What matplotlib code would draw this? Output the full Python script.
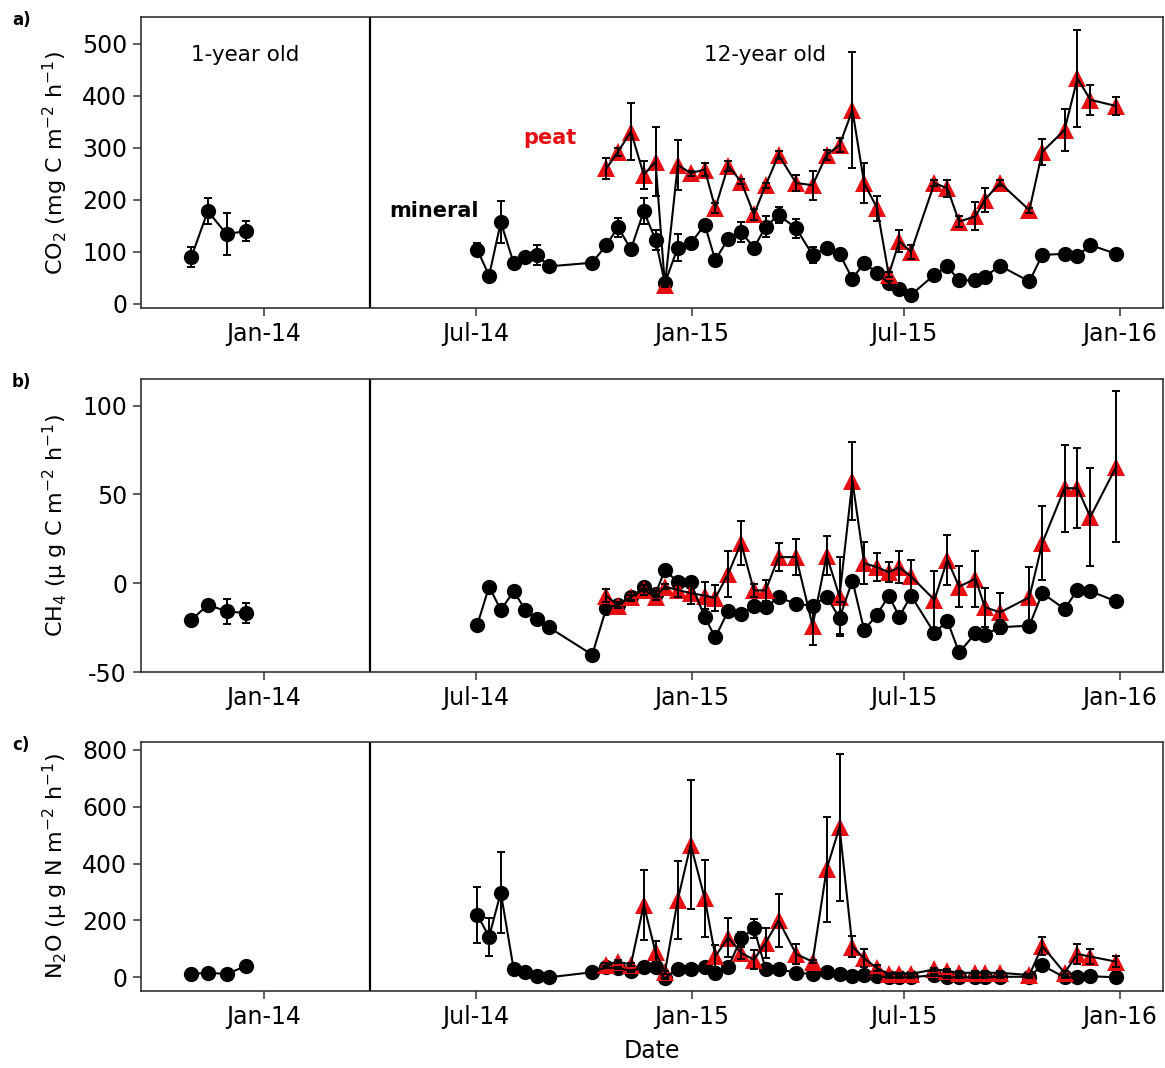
import numpy as np
import pandas as pd
import matplotlib
matplotlib.use('Agg')
import matplotlib.pyplot as plt
import matplotlib.dates as mdates

plt.rcParams['font.family'] = ['DejaVu Sans']
plt.rcParams['mathtext.default'] = 'regular'
plt.rcParams['axes.unicode_minus'] = False

# 1-year old site
dates_1yr = ['2013-10-31', '2013-11-14', '2013-11-30', '2013-12-17']
co2_1yr = [90, 178, 134, 140]
co2_1yr_se = [19, 25, 40, 20]
ch4_1yr = [-20.7, -12.2, -15.8, -16.9]
ch4_1yr_se = [1.5, 3, 7, 5.5]
n2o_1yr = [12, 16, 12, 40]
n2o_1yr_se = [3, 3, 3, 5]

# 12-year old site, mineral plots
dates_12yr = ['2014-07-02', '2014-07-12', '2014-07-22', '2014-08-02', '2014-08-12',
              '2014-08-22', '2014-09-01', '2014-10-08', '2014-10-20', '2014-10-30',
              '2014-11-10', '2014-11-21', '2014-12-01', '2014-12-09', '2014-12-20',
              '2014-12-31', '2015-01-12', '2015-01-21', '2015-02-01', '2015-02-12',
              '2015-02-23', '2015-03-05', '2015-03-16', '2015-03-31', '2015-04-14',
              '2015-04-26', '2015-05-07', '2015-05-18', '2015-05-28', '2015-06-08',
              '2015-06-18', '2015-06-27', '2015-07-07', '2015-07-27', '2015-08-07',
              '2015-08-17', '2015-08-31', '2015-09-08', '2015-09-21', '2015-10-16',
              '2015-10-27', '2015-11-15', '2015-11-26', '2015-12-07', '2015-12-29']
# peat plots measured from 20 Oct 2014 on
dates_peat = dates_12yr[8:]

co2_min = [104, 54, 157, 78, 90, 94, 72, 79, 113, 147, 105, 178, 123, 40, 108,
           116, 152, 84, 125, 138, 108, 148, 171, 145, 94, 107, 96, 48, 79, 59,
           40, 28, 17, 56, 72, 45, 45, 52, 73, 43, 94, 96, 92, 113, 96]
co2_min_se = [13, 4, 40, 4, 4, 19, 4, 4, 8, 18, 4, 25, 19, 4, 26,
              4, 4, 4, 4, 19, 4, 20, 15, 18, 16, 4, 4, 4, 4, 4,
              4, 4, 4, 4, 4, 4, 4, 4, 4, 4, 4, 4, 8, 4, 4]
co2_peat = [260, 292, 331, 248, 273, 36, 267, 251, 258, 184, 265, 235, 172, 228,
            286, 232, 228, 286, 305, 372, 232, 184, 56, 120, 100, 232, 222, 158,
            168, 200, 232, 180, 292, 334, 433, 392, 380]
co2_peat_se = [21, 8, 54, 27, 66, 4, 48, 5, 13, 10, 10, 5, 10, 5,
               8, 16, 28, 10, 14, 112, 39, 24, 5, 21, 13, 5, 16, 11,
               27, 23, 5, 5, 25, 40, 93, 29, 18]

ch4_min = [-23.3, -1.9, -15.1, -4.5, -15.1, -20.1, -24.8, -40.3, -14, -12, -8,
           -2.3, -6, 7.4, 0.6, 0.5, -19.1, -30.5, -15.6, -17.3, -13, -13.5,
           -7.9, -11.7, -12.6, -7.5, -19.6, 1.5, -26.4, -17.7, -7, -18.8, -7,
           -28.2, -21.1, -39, -28.2, -29, -24.8, -23.9, -5.6, -14.5, -3.8, -4.5, -10.2]
ch4_min_se = [1.5, 1.5, 1.5, 1.5, 1.5, 1.5, 1.5, 1.5, 1.5, 1.5, 1.5,
              1.5, 1.5, 1.5, 1.5, 1.5, 1.5, 1.5, 1.5, 1.5, 1.5, 1.5,
              1.5, 1.5, 1.5, 1.5, 8.8, 1.5, 1.5, 1.5, 1.5, 1.5, 1.5,
              1.5, 1.5, 1.5, 1.5, 1.5, 4, 1.5, 1.5, 1.5, 1.5, 1.5, 1.5]
ch4_peat = [-7, -12.6, -7.5, -3.8, -7.9, -1.9, -3.8, -5.6, -7, -8.3, 5.3, 22.6,
            -4.1, -4, 14.7, 14.7, -23.9, 15.6, -7.5, 57.6, 11.3, 9, 6.2, 9, 3.8,
            -9.4, 13.2, -1.9, 2.5, -13.5, -16.4, -7.9, 22.6, 53.5, 53.5, 37.3, 65.5]
ch4_peat_se = [3.8, 1.5, 2.4, 3, 1.5, 1.5, 4, 6.3, 7.8, 7.5, 13, 12.5,
               3.8, 5.8, 8, 10, 11, 11, 22, 22, 12, 8, 5.5, 9, 9,
               16.5, 14, 11.6, 15.7, 11, 11, 17, 21, 24.5, 22.4, 27.7, 42.5]

n2o_min = [219, 143, 298, 28, 20, 5, 0, 18, 35, 32, 23, 35, 35, -4, 31,
           31, 35, 14, 35, 137, 172, 29, 29, 16, 12, 20, 12, 5, 8, 5,
           0, 0, 0, 8, 0, 0, 0, 0, 2, 2, 42, 0, 0, 4, 0]
n2o_min_se = [97, 67, 141, 3, 3, 3, 3, 3, 3, 3, 3, 3, 3, 3, 3,
              3, 3, 3, 3, 23, 32, 3, 3, 3, 3, 3, 3, 3, 3, 3,
              3, 3, 3, 3, 3, 3, 3, 3, 3, 3, 3, 3, 3, 3, 3]
n2o_peat = [45, 55, 45, 255, 88, 18, 273, 466, 278, 74, 140, 86, 62, 122,
            200, 82, 55, 380, 528, 108, 67, 32, 12, 12, 12, 28, 23, 16,
            16, 16, 16, 8, 110, 16, 82, 73, 55]
n2o_peat_se = [5, 5, 5, 123, 38, 5, 137, 227, 135, 38, 69, 22, 33, 53,
               94, 36, 5, 184, 258, 38, 31, 10, 5, 5, 5, 5, 5, 5,
               5, 5, 5, 5, 32, 5, 36, 26, 20]

ylabels = ['CO$_2$ (mg C m$^{-2}$ h$^{-1}$)',
           'CH$_4$ (μ g C m$^{-2}$ h$^{-1}$)',
           'N$_2$O (μ g N m$^{-2}$ h$^{-1}$)']
yticks_list = [[0, 100, 200, 300, 400, 500], [-50, 0, 50, 100], [0, 200, 400, 600, 800]]
ylims = [(-8, 551), (-50, 115), (-48, 827)]
panel_tags = ['a)', 'b)', 'c)']
xtick_dates = ['2014-01-01', '2014-07-01', '2015-01-01', '2015-07-01', '2016-01-01']

d1 = pd.to_datetime(dates_1yr)
dm = pd.to_datetime(dates_12yr)
dp = pd.to_datetime(dates_peat)

RED = '#e60f14'

fig = plt.figure(figsize=(11.65, 10.68), dpi=100)
W, H = 1165, 1068
left, right = 141, 1163
boxes = [(17, 308), (379, 672), (742, 991)]

series = [
    (co2_1yr, co2_1yr_se, co2_min, co2_min_se, co2_peat, co2_peat_se),
    (ch4_1yr, ch4_1yr_se, ch4_min, ch4_min_se, ch4_peat, ch4_peat_se),
    (n2o_1yr, n2o_1yr_se, n2o_min, n2o_min_se, n2o_peat, n2o_peat_se),
]

axes = []
for i, (top, bot) in enumerate(boxes):
    ax = fig.add_axes([left / W, 1 - bot / H, (right - left) / W, (bot - top) / H])
    axes.append(ax)
    y1, e1, ym, em, yp, ep = series[i]

    # 1-year old
    ax.plot(d1, y1, 'o', ms=11, color='black', mew=0, zorder=2)
    ax.plot(d1, y1, color='black', lw=1.5, zorder=3)
    ax.errorbar(d1, y1, yerr=e1, fmt='none', ecolor='black', elinewidth=1.4,
                capsize=3.2, capthick=1.4, zorder=3)
    # mineral
    ax.plot(dm, ym, 'o', ms=11, color='black', mew=0, zorder=2)
    ax.plot(dm, ym, color='black', lw=1.5, zorder=3)
    ax.errorbar(dm, ym, yerr=em, fmt='none', ecolor='black', elinewidth=1.4,
                capsize=3.2, capthick=1.4, zorder=3)
    # peat
    ax.plot(dp, yp, '^', ms=13.5, color=RED, mew=0, zorder=2.5)
    ax.plot(dp, yp, color='black', lw=1.5, zorder=3)
    ax.errorbar(dp, yp, yerr=ep, fmt='none', ecolor='black', elinewidth=1.4,
                capsize=3.2, capthick=1.4, zorder=3)

    ax.axvline(pd.Timestamp('2014-04-01'), color='black', lw=1.6, zorder=1)

    ax.set_xlim(pd.Timestamp('2013-09-18'), pd.Timestamp('2016-02-07'))
    ax.set_ylim(*ylims[i])
    ax.set_yticks(yticks_list[i])
    ax.set_yticklabels([str(t) for t in yticks_list[i]])
    ax.set_xticks(pd.to_datetime(xtick_dates))
    ax.xaxis.set_major_formatter(mdates.DateFormatter('%b-%y'))
    ax.tick_params(axis='both', labelsize=17, length=6, width=1.1,
                   color='#333333', pad=4)
    for s in ax.spines.values():
        s.set_color('#333333')
        s.set_linewidth(1.2)
    ax.set_ylabel(ylabels[i], fontsize=16)
    ax.yaxis.set_label_coords(-0.069, 0.5)

    fig.text(12 / W, 1 - (top + 3) / H, panel_tags[i], fontsize=12,
             fontweight='bold', ha='left', va='center')

axes[2].set_xlabel('Date', fontsize=17, labelpad=7)

ax = axes[0]
ax.text(0.102, 0.869, '1-year old', transform=ax.transAxes, fontsize=15.5,
        ha='center', va='center')
ax.text(0.611, 0.869, '12-year old', transform=ax.transAxes, fontsize=15.5,
        ha='center', va='center')
ax.text(0.400, 0.584, 'peat', transform=ax.transAxes, fontsize=15,
        fontweight='bold', color=RED, ha='center', va='center')
ax.text(0.287, 0.333, 'mineral', transform=ax.transAxes, fontsize=15,
        fontweight='bold', color='black', ha='center', va='center')

fig.savefig('out.png', dpi=100)
